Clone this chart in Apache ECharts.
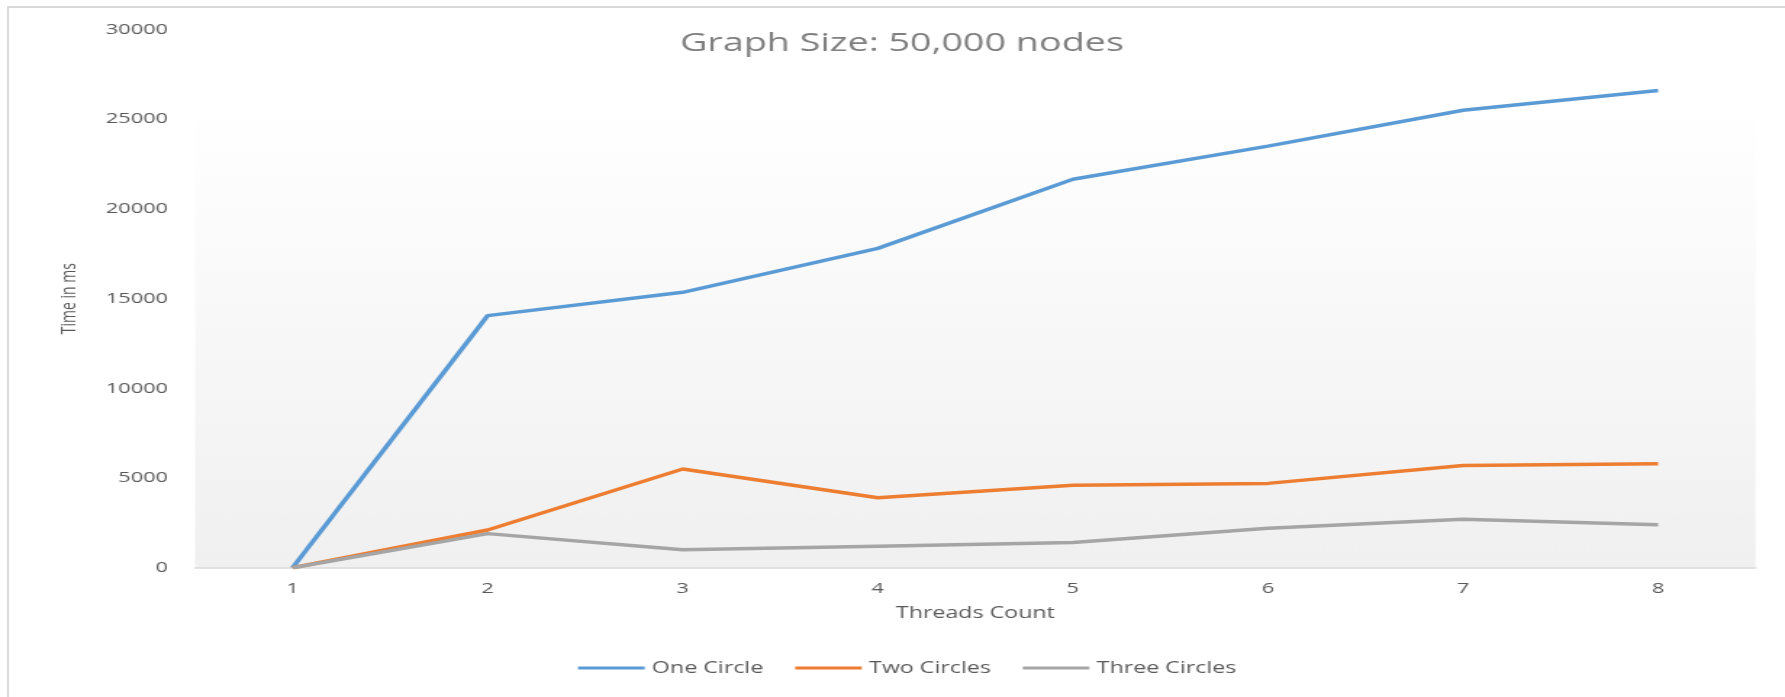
<!DOCTYPE html>
<html>
<head>
<meta charset="utf-8">
<script src="https://cdn.jsdelivr.net/npm/echarts@6/dist/echarts.min.js"></script>
<style>
  html, body { margin: 0; padding: 0; background: #ffffff; overflow: hidden; }
  #frame {
    position: absolute; left: 7px; top: 6px; width: 1820px; height: 720px;
    border-top: 2px solid #d9d9d9; border-left: 2px solid #d9d9d9;
  }
  #chart { position: absolute; left: 0; top: 0; height: 697px; transform-origin: 0 0; }
</style>
</head>
<body>
<div id="frame"></div>
<div id="chart"></div>
<script>
// Thread counts on the x axis
const threads = ['1', '2', '3', '4', '5', '6', '7', '8'];

// Run time in milliseconds per configuration
const oneCircle    = [0, 14050, 15350, 17800, 21650, 23500, 25500, 26600];
const twoCircles   = [0, 2100, 5500, 3900, 4600, 4700, 5700, 5800];
const threeCircles = [0, 1900, 1000, 1200, 1400, 2200, 2700, 2400];

const seriesNames = ['One Circle', 'Two Circles', 'Three Circles'];
const yMin = 0, yMax = 30000, yStep = 5000;

// The chart is laid out narrower and widened horizontally as a whole
const FULL_W = 1785;
const STRETCH = 1.45;
const W = FULL_W / STRETCH;

const el = document.getElementById('chart');
el.style.width = W + 'px';
el.style.transform = 'scaleX(' + STRETCH + ')';

const font = "'Open Sans', 'DejaVu Sans', sans-serif";
const textGray = '#595959';

const chart = echarts.init(el, null, { renderer: 'canvas' });

chart.setOption({
  animation: false,
  title: {
    text: 'Graph Size: 50,000 nodes',
    left: 680 / STRETCH,
    top: 31,
    padding: 0,
    textStyle: { color: '#7f7f7f', fontSize: 26, fontWeight: 'normal', fontFamily: font }
  },
  legend: {
    left: 578 / STRETCH,
    top: 660,
    padding: 0,
    icon: 'rect',
    itemWidth: 46,
    itemHeight: 3,
    itemGap: 22,
    data: seriesNames,
    textStyle: { color: textGray, fontSize: 16, fontFamily: font }
  },
  grid: {
    left: 195 / STRETCH,
    right: W - 1755.7 / STRETCH,
    top: 29.5,
    bottom: 129.3,
    show: true,
    borderWidth: 0,
    backgroundColor: {
      type: 'linear', x: 0, y: 0, x2: 0, y2: 1,
      colorStops: [
        { offset: 0, color: '#ffffff' },
        { offset: 0.15, color: '#ffffff' },
        { offset: 1, color: '#f0f0f0' }
      ]
    }
  },
  xAxis: {
    type: 'category',
    data: threads,
    boundaryGap: true,
    axisLine: { lineStyle: { color: '#d9d9d9', width: 1.5 } },
    axisTick: { show: false },
    axisLabel: { color: textGray, fontSize: 15, margin: 14, fontFamily: font },
    name: 'Threads Count',
    nameLocation: 'middle',
    nameGap: 38,
    nameTextStyle: { color: textGray, fontSize: 16, fontFamily: font }
  },
  yAxis: {
    type: 'value',
    min: yMin,
    max: yMax,
    interval: yStep,
    axisLine: { show: false },
    axisTick: { show: false },
    splitLine: { show: false },
    axisLabel: {
      color: textGray, fontSize: 15, margin: 18.6, fontFamily: font,
      formatter: (v) => String(v)
    },
    name: 'Time in ms',
    nameLocation: 'middle',
    nameGap: 79,
    nameTextStyle: { color: textGray, fontSize: 14, fontFamily: font }
  },
  series: [
    { name: seriesNames[0], type: 'line', data: oneCircle, symbol: 'none',
      color: '#5b9bd5', lineStyle: { width: 3.5, color: '#5b9bd5' } },
    { name: seriesNames[1], type: 'line', data: twoCircles, symbol: 'none',
      color: '#ed7d31', lineStyle: { width: 3.5, color: '#ed7d31' } },
    { name: seriesNames[2], type: 'line', data: threeCircles, symbol: 'none',
      color: '#a5a5a5', lineStyle: { width: 3.5, color: '#a5a5a5' } }
  ]
});
</script>
</body>
</html>
